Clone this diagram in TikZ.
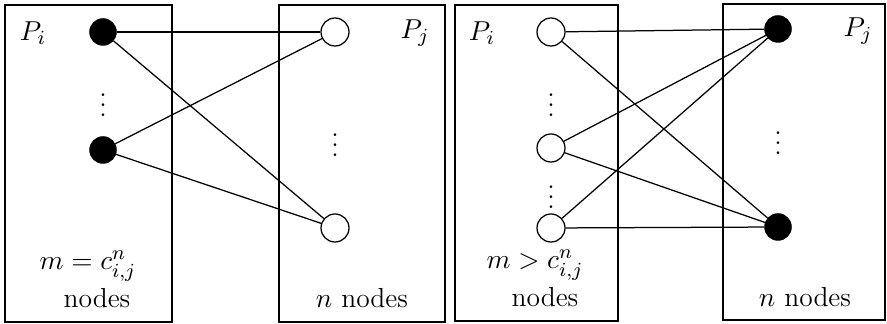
\documentclass[tikz,border=0pt]{standalone}
\usepackage{amsmath}
\usepackage{tikz}
\usetikzlibrary{positioning}

\begin{document}
\begin{tikzpicture}[x=0.4pt, y=-0.4pt,
    part/.style={draw, line width=0.6pt},
    full/.style={circle, draw, fill=black, inner sep=0pt, minimum size=10.6pt},
    hollow/.style={circle, draw, fill=white, inner sep=0pt, minimum size=11.2pt, line width=0.5pt},
    edge/.style={line width=0.5pt},
    lbl/.style={font=\fontsize{11}{13}\selectfont, inner sep=0pt},
  ]
    \useasboundingbox (0,0) rectangle (887,324);

    % Left pair -- m equals the capacity
    \draw[part] (5,5) rectangle (172,322);
    \draw[part] (279,5) rectangle (445,322);
    \node[lbl] (pi1) at (33,33) {$P_i$};
    \node[lbl] (pj1) at (415,33) {$P_j$};
    \node[full]   (a1) at (103,32)  {};
    \node[full]   (a2) at (103,150) {};
    \node[lbl]    (ad) at (103,98)  {$\vdots$};
    \node[hollow] (b1) at (335,32)  {};
    \node[hollow] (b2) at (335,228) {};
    \node[lbl]    (bd) at (335,138) {$\vdots$};
    \node[lbl] (meq)  at (88,266)  {$m = c^{n}_{i,j}$};
    \node[lbl] (mnd)  at (97,298)  {nodes};
    \node[lbl] (nnd1) at (362,298) {$n$ nodes};

    % Right pair -- m above the capacity
    \draw[part] (455,5) rectangle (618,321);
    \draw[part] (723,4) rectangle (885,320);
    \node[lbl] (pi2) at (482,33) {$P_i$};
    \node[lbl] (pj2) at (858,31) {$P_j$};
    \node[hollow] (c1) at (551,32)  {};
    \node[hollow] (c2) at (551,148) {};
    \node[hollow] (c3) at (551,228) {};
    \node[lbl]    (cd1) at (551,98)  {$\vdots$};
    \node[lbl]    (cd2) at (551,190) {$\vdots$};
    \node[full]   (d1) at (778,29)  {};
    \node[full]   (d2) at (778,227) {};
    \node[lbl]    (dd) at (778,136) {$\vdots$};
    \node[lbl] (mgt)  at (535,265) {$m > c^{n}_{i,j}$};
    \node[lbl] (mnd2) at (545,297) {nodes};
    \node[lbl] (nnd2) at (805,297) {$n$ nodes};

    % Connections
    \draw[edge] (a1) -- (b1);
    \draw[edge] (a1) -- (b2);
    \draw[edge] (a2) -- (b1);
    \draw[edge] (a2) -- (b2);
    \draw[edge] (c1) -- (d1);
    \draw[edge] (c1) -- (d2);
    \draw[edge] (c2) -- (d1);
    \draw[edge] (c2) -- (d2);
    \draw[edge] (c3) -- (d1);
    \draw[edge] (c3) -- (d2);
  \end{tikzpicture}
\end{document}
